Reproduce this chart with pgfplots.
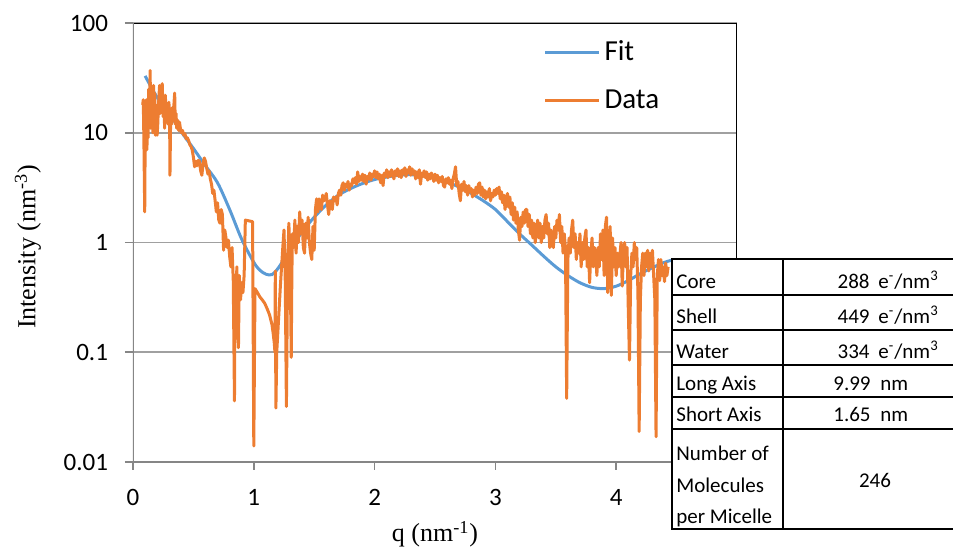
\documentclass[border=0pt]{standalone}
\usepackage{pgfplots}
\pgfplotsset{compat=1.18}
\usepackage{fontspec}
\setmainfont{Carlito}
\newfontfamily\timesf{Liberation Serif}
\definecolor{fitblue}{HTML}{5B9BD5}
\definecolor{dataorange}{HTML}{ED7D31}
\definecolor{gridgray}{HTML}{A0A0A0}
\definecolor{axgray}{HTML}{868686}

\begin{document}
\begin{tikzpicture}
\useasboundingbox (0pt,0pt) rectangle (476.5pt,274pt);
\begin{axis}[
  at={(66.5pt,43pt)}, anchor=south west,
  width=302pt, height=219.5pt, scale only axis,
  xmin=0, xmax=5, ymin=0.01, ymax=100, ymode=log,
  axis line style={draw=none},
  xtick={0,1,2,3,4}, ytick={0.01,0.1,1,10,100},
  yticklabels={0.01,0.1,1,10,100},
  tick pos=left, tick align=outside, major tick length=4pt,
  tick style={axgray, line width=0.8pt},
  minor tick num=0, yminorticks=false,
  ymajorgrids, grid style={gridgray, line width=0.8pt},
  ticklabel style={font=\fontsize{12.5}{14}\selectfont},
  /pgf/number format/assume math mode=true,
  yticklabel style={xshift=-5pt},
  xticklabel style={yshift=-6pt},
  xlabel={\timesf q (nm\textsuperscript{-1})},
  ylabel={\timesf Intensity (nm\textsuperscript{-3})},
  label style={font=\fontsize{13}{15}\selectfont},
  xlabel style={at={(axis description cs:0.5,-0.182)}, anchor=base},
  ylabel style={at={(axis description cs:-0.174,0.49)}, anchor=center},
  legend style={at={(rel axis cs:0.679,0.97)}, anchor=north west, draw=none, fill=none,
    font=\fontsize{14.5}{17}\selectfont, row sep=9pt, inner sep=0pt},
  legend cell align=left,
  legend image code/.code={\draw[#1] (0pt,0pt) -- (27pt,0pt);},
]
\addplot[fitblue, line width=1.5pt, smooth] coordinates {
(0.10,33)(0.20,21)(0.30,15)(0.40,10.2)(0.50,7.2)(0.60,5.0)(0.70,3.5)(0.80,2.0)
(0.90,1.07)(1.00,0.66)(1.05,0.56)(1.10,0.515)(1.15,0.51)(1.20,0.58)(1.30,0.85)
(1.40,1.25)(1.50,1.7)(1.60,2.2)(1.70,2.7)(1.80,3.1)(1.90,3.45)(2.00,3.75)
(2.10,3.95)(2.20,4.1)(2.30,4.15)(2.40,4.05)(2.50,3.85)(2.60,3.55)(2.70,3.2)
(2.80,2.8)(2.90,2.4)(3.00,2.0)(3.10,1.55)(3.20,1.2)(3.30,0.95)(3.40,0.75)
(3.50,0.6)(3.60,0.5)(3.70,0.43)(3.80,0.39)(3.90,0.38)(4.00,0.4)(4.10,0.45)
(4.20,0.52)(4.30,0.59)(4.40,0.66)(4.46,0.69)
};
\addlegendentry{Fit}
\addplot[dataorange, line width=1.5pt, line join=round] coordinates {
(0.080,18)(0.085,20)(0.090,9)(0.097,1.9)(0.102,14)(0.106,8)(0.110,20)(0.115,7)
(0.120,12)(0.125,9)(0.130,25)(0.135,14)(0.142,37)(0.146,11)(0.150,26)(0.155,17)
(0.160,24)(0.165,10)(0.170,27)(0.175,15)(0.180,23)(0.185,9.5)(0.190,18)(0.195,14)
(0.200,9.5)(0.205,12)(0.210,17)(0.220,27)(0.225,15)(0.230,22)(0.236,16)(0.242,28)
(0.250,14)(0.256,18)(0.262,11)(0.268,22)(0.275,13)(0.282,16)(0.290,12)(0.297,19)
(0.303,15)(0.306,4.1)(0.312,15)(0.320,12)(0.327,17)(0.333,14)(0.340,19)(0.345,23)
(0.350,12)(0.356,15)(0.362,11)(0.370,13)(0.378,10.5)(0.385,12.5)(0.392,11)
(0.400,10)(0.41,10.5)(0.42,9.5)(0.43,9.8)(0.44,8.8)
(0.45,9)(0.46,8.5)(0.47,7.8)(0.48,7.5)(0.49,7)(0.50,6)(0.51,4.9)(0.52,5.5)(0.53,5)
(0.54,5.6)(0.55,5.5)(0.56,4.5)(0.57,4.1)(0.58,5.2)(0.59,5.9)(0.60,5.5)(0.61,4.8)
(0.62,4.2)(0.63,4.5)(0.64,3.8)(0.65,3.4)(0.66,2.8)(0.67,3.0)(0.68,2.4)(0.69,1.9)
(0.70,2.3)(0.71,1.6)(0.72,1.5)(0.73,2.0)(0.74,1.8)(0.75,0.85)(0.76,1.3)(0.77,1.1)
(0.78,0.9)(0.79,1.05)(0.80,0.75)(0.81,0.6)(0.82,0.9)(0.83,0.45)(0.84,0.036)
(0.845,0.5)(0.85,0.3)(0.86,0.6)(0.867,0.2)(0.873,0.11)(0.88,0.5)(0.89,0.3)
(0.90,0.43)(0.91,0.35)(0.92,0.5)(0.93,1.6)(0.99,1.55)(1.00,0.014)(1.01,0.38)
(1.03,0.35)(1.05,0.32)(1.07,0.3)(1.09,0.28)(1.11,0.25)(1.13,0.22)(1.15,0.18)
(1.16,0.15)(1.17,0.12)(1.175,0.1)(1.178,0.55)(1.183,0.031)(1.19,0.1)(1.22,0.4)
(1.24,0.9)(1.25,1.3)(1.26,0.5)(1.27,0.032)(1.28,0.6)(1.29,1.5)(1.30,0.8)(1.31,0.09)
(1.315,0.5)(1.32,1.2)(1.33,0.9)(1.34,1.6)(1.35,0.8)(1.36,1.4)(1.37,1.0)(1.38,1.9)
(1.39,1.2)(1.40,1.6)(1.41,0.9)(1.42,0.8)(1.43,1.5)(1.44,1.1)(1.45,1.7)(1.46,1.0)
(1.47,0.8)(1.48,0.7)(1.49,1.4)(1.50,0.85)(1.51,2.0)(1.52,2.5)(1.53,1.9)(1.54,2.5)
(1.55,2.2)(1.56,2.0)(1.57,2.7)(1.58,2.4)(1.59,2.5)(1.60,2.8)(1.61,2.2)(1.62,1.8)
(1.63,2.4)(1.64,2.3)(1.65,2.0)(1.66,2.6)(1.67,2.4)(1.68,2.6)(1.69,2.2)(1.70,2.8)
(1.71,3.0)(1.72,2.7)(1.73,3.3)(1.74,3.5)(1.75,3.0)(1.76,3.4)(1.77,3.2)(1.78,3.6)
(1.79,3.0)(1.80,3.4)(1.81,3.3)(1.82,3.8)(1.83,3.5)(1.84,3.9)(1.85,3.4)(1.86,4.4)
(1.87,3.6)(1.88,4.0)(1.89,3.7)(1.90,4.2)(1.91,3.6)(1.92,4.1)(1.93,3.4)(1.94,4.0)
(1.95,3.8)(1.96,4.3)(1.97,3.7)(1.98,4.2)(1.99,4.0)(2.00,4.5)(2.01,3.9)(2.02,4.4)
(2.03,3.8)(2.04,4.2)(2.05,3.5)(2.06,4.1)(2.07,3.3)(2.08,4.3)(2.09,4.0)(2.10,4.6)
(2.11,3.9)(2.12,4.4)(2.13,4.0)(2.14,4.6)(2.15,4.2)(2.16,3.8)(2.17,4.5)(2.18,4.1)
(2.19,4.7)(2.20,4.0)(2.21,4.5)(2.22,3.9)(2.23,4.6)(2.24,4.2)(2.25,4.8)(2.26,4.0)
(2.27,4.6)(2.28,4.3)(2.29,4.9)(2.30,4.1)(2.31,4.7)(2.32,4.2)(2.33,4.5)(2.34,3.8)
(2.35,4.4)(2.36,3.9)(2.37,4.6)(2.38,3.4)(2.39,4.3)(2.40,4.0)(2.41,4.5)(2.42,3.9)
(2.43,4.4)(2.44,3.7)(2.45,4.2)(2.46,3.8)(2.47,4.3)(2.48,4.0)(2.49,3.6)(2.50,4.2)
(2.51,3.7)(2.52,4.1)(2.53,3.5)(2.54,3.9)(2.55,3.6)(2.56,4.0)(2.57,3.3)(2.58,3.2)
(2.59,3.8)(2.60,3.5)(2.61,3.9)(2.62,3.4)(2.63,3.7)(2.64,3.1)(2.65,3.8)(2.66,4.2)
(2.67,4.9)(2.68,3.3)(2.69,3.6)(2.70,2.8)(2.71,2.4)(2.72,3.4)(2.73,3.0)(2.74,3.6)
(2.75,2.9)(2.76,3.3)(2.77,2.7)(2.78,3.3)(2.79,2.9)(2.80,3.1)(2.81,2.6)(2.82,3.0)
(2.83,2.7)(2.84,3.2)(2.85,2.8)(2.86,3.4)(2.87,3.5)(2.88,2.7)(2.89,3.2)(2.90,2.6)
(2.91,3.0)(2.92,2.5)(2.93,2.9)(2.94,2.6)(2.95,3.1)(2.96,2.4)(2.97,2.8)(2.98,2.6)
(2.99,3.0)(3.00,2.7)(3.01,3.1)(3.02,2.8)(3.03,3.2)(3.04,2.5)(3.05,2.9)(3.06,2.3)
(3.07,2.7)(3.08,2.0)(3.09,2.5)(3.10,2.8)(3.11,2.1)(3.12,2.6)(3.13,1.8)(3.14,2.3)
(3.15,1.6)(3.16,2.1)(3.17,1.5)(3.18,1.9)(3.19,1.3)(3.20,1.05)(3.21,1.7)(3.22,1.4)
(3.23,1.9)(3.24,1.5)(3.25,2.0)(3.26,2.0)(3.27,1.4)(3.28,1.8)(3.29,1.2)(3.30,1.6)
(3.31,1.1)(3.32,1.5)(3.33,1.0)(3.34,1.3)(3.35,1.6)(3.36,1.1)(3.37,1.5)(3.38,1.0)
(3.39,1.4)(3.40,1.1)(3.41,1.6)(3.42,1.8)(3.43,1.2)(3.44,1.5)(3.45,0.9)(3.46,1.3)
(3.47,1.0)(3.48,0.9)(3.49,1.4)(3.50,1.1)(3.51,1.6)(3.52,1.3)(3.53,1.8)(3.54,1.0)
(3.55,1.4)(3.56,0.8)(3.57,1.2)(3.58,0.9)(3.59,0.038)(3.60,0.7)(3.61,1.1)(3.62,0.8)
(3.63,1.3)(3.64,1.6)(3.65,0.9)(3.66,1.2)(3.67,0.7)(3.68,1.0)(3.69,0.8)(3.70,1.2)
(3.71,0.6)(3.72,1.0)(3.73,0.7)(3.74,1.1)(3.75,1.3)(3.76,0.6)(3.77,0.9)(3.78,0.43)
(3.79,0.8)(3.80,1.1)(3.81,0.6)(3.82,0.9)(3.83,0.8)(3.84,0.5)(3.85,0.9)(3.86,0.6)
(3.87,1.2)(3.88,0.7)(3.89,1.3)(3.90,0.5)(3.91,1.4)(3.92,1.7)(3.93,0.35)(3.94,0.9)
(3.95,1.4)(3.96,0.33)(3.97,1.1)(3.98,0.6)(3.99,0.9)(4.00,0.5)(4.01,0.8)(4.02,0.6)
(4.03,0.75)(4.04,1.0)(4.05,0.4)(4.06,0.8)(4.07,1.0)(4.08,0.6)(4.09,0.9)(4.10,0.25)
(4.11,0.085)(4.12,0.5)(4.13,0.8)(4.14,0.6)(4.15,1.0)(4.16,0.7)(4.17,0.9)(4.18,0.35)
(4.19,0.019)(4.20,0.3)(4.21,0.6)(4.22,0.8)(4.23,0.5)(4.24,0.8)(4.25,0.6)(4.26,0.85)
(4.27,0.55)(4.28,0.8)(4.29,0.6)(4.30,0.85)(4.31,0.5)(4.32,0.3)(4.33,0.017)(4.34,0.5)
(4.35,0.7)(4.36,0.45)(4.37,0.7)(4.38,0.5)(4.39,0.6)(4.40,0.44)(4.41,0.65)(4.42,0.5)
(4.43,0.6)
};
\addlegendentry{Data}
\draw[black, line width=0.8pt] (rel axis cs:0,1) -- (rel axis cs:1,1) -- (rel axis cs:1,0);
\draw[axgray, line width=0.9pt] (rel axis cs:0,1) -- (rel axis cs:0,0) -- (rel axis cs:1,0);
\end{axis}
% parameter table
\fill[white] (336pt,9.5pt) rectangle (478pt,144.5pt);
\begin{scope}[line width=0.9pt]
\draw (478pt,144.5pt) -- (336pt,144.5pt) -- (336pt,9.5pt) -- (478pt,9.5pt);
\foreach \yy in {126.5,109,91.5,75.5,59.5} \draw (336pt,\yy pt) -- (478pt,\yy pt);
\draw (391.5pt,144.5pt) -- (391.5pt,9.5pt);
\end{scope}
\begin{scope}[every node/.style={inner sep=0pt, font=\fontsize{10.5}{12}\selectfont}]
\node[anchor=base west] at (338pt,130pt) {Core};
\node[anchor=base west] at (338pt,112.5pt) {Shell};
\node[anchor=base west] at (338pt,95pt) {Water};
\node[anchor=base west] at (338pt,79pt) {Long Axis};
\node[anchor=base west] at (338pt,63.5pt) {Short Axis};
\node[anchor=base west] at (338pt,44pt) {Number of};
\node[anchor=base west] at (338pt,28pt) {Molecules};
\node[anchor=base west] at (338pt,12.5pt) {per Micelle};
\node[anchor=base east] at (435pt,130pt) {288};
\node[anchor=base east] at (435pt,112.5pt) {449};
\node[anchor=base east] at (435pt,95pt) {334};
\node[anchor=base west] at (439pt,130pt) {e\textsuperscript{-}/nm\textsuperscript{3}};
\node[anchor=base west] at (439pt,112.5pt) {e\textsuperscript{-}/nm\textsuperscript{3}};
\node[anchor=base west] at (439pt,95pt) {e\textsuperscript{-}/nm\textsuperscript{3}};
\node[anchor=base east] at (435.5pt,79pt) {9.99};
\node[anchor=base east] at (435.5pt,63.5pt) {1.65};
\node[anchor=base west] at (440pt,79pt) {nm};
\node[anchor=base west] at (440pt,63.5pt) {nm};
\node[anchor=center] at (437.5pt,34pt) {246};
\end{scope}
\end{tikzpicture}
\end{document}
